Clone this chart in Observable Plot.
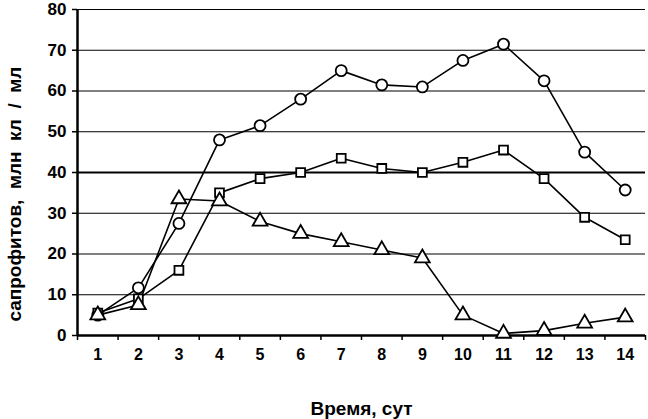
<!DOCTYPE html>
<html>
<head>
<meta charset="utf-8">
<script src="https://cdn.jsdelivr.net/npm/d3@7"></script>
<script src="https://cdn.jsdelivr.net/npm/@observablehq/plot@0.6"></script>
<style>
  html, body { margin: 0; padding: 0; background: #fff; }
  svg { display: block; }
</style>
</head>
<body>
<div id="chart"></div>
<script>
const days = [1, 2, 3, 4, 5, 6, 7, 8, 9, 10, 11, 12, 13, 14];
const circleSeries = [5, 11.7, 27.5, 48, 51.5, 58, 65, 61.5, 61, 67.5, 71.5, 62.5, 45, 35.7];
const squareSeries = [5.5, 9, 16, 35, 38.5, 40, 43.5, 41, 40, 42.5, 45.5, 38.5, 29, 23.5];
const triangleSeries = [5, 7.5, 33.5, 33, 28, 25, 23, 21, 19, 5, 0.5, 1.2, 3, 4.5];
const yTicks = [0, 10, 20, 30, 40, 50, 60, 70, 80];
const xLabel = "Время, сут";
const yLabel = "сапрофитов,\u00a0\u00a0млн\u00a0\u00a0кл\u00a0\u00a0/\u00a0\u00a0мл";

const rows = (vals, s) => days.map((d, i) => ({day: d, v: vals[i], s}));
const circ = rows(circleSeries, "c");
const sq = rows(squareSeries, "s");
const tri = rows(triangleSeries, "t");
const halfTicks = d3.range(0.5, 15, 1);

const chart = Plot.plot({
  width: 648,
  height: 419,
  marginLeft: 77,
  marginRight: 3,
  marginTop: 9,
  marginBottom: 84,
  style: {fontFamily: "'Liberation Sans', Arial, sans-serif", background: "#fff"},
  x: {domain: [0.5, 14.5], axis: null, label: null},
  y: {domain: [0, 80], axis: null, label: null},
  marks: [
    Plot.ruleY(yTicks.filter(d => d !== 40 && d !== 0), {stroke: "#000", strokeWidth: 1.2}),
    Plot.ruleY([40], {stroke: "#000", strokeWidth: 2.2}),
    Plot.axisX(halfTicks, {tickSize: 5, tickFormat: () => "", label: null, stroke: "#000", strokeWidth: 1.5}),
    Plot.axisX(days, {tickSize: 0, tickPadding: 13, label: null, fontSize: 16, fontWeight: "bold", fill: "#000"}),
    Plot.axisY(yTicks, {tickSize: 5, tickPadding: 6, label: null, fontSize: 17, fontWeight: "bold", fill: "#000", stroke: "#000", strokeWidth: 1.5}),
    Plot.ruleY([0], {stroke: "#000", strokeWidth: 2.5}),
    Plot.ruleX([0.5], {y1: 0, y2: 80, stroke: "#000", strokeWidth: 2.5}),
    Plot.line(circ, {x: "day", y: "v", stroke: "#000", strokeWidth: 1.6}),
    Plot.line(sq, {x: "day", y: "v", stroke: "#000", strokeWidth: 1.6}),
    Plot.line(tri, {x: "day", y: "v", stroke: "#000", strokeWidth: 1.6}),
    Plot.dot(circ, {x: "day", y: "v", symbol: "circle", r: 5.5, fill: "#fff", stroke: "#000", strokeWidth: 1.8}),
    Plot.dot(sq, {x: "day", y: "v", symbol: "square", r: 5, fill: "#fff", stroke: "#000", strokeWidth: 1.8}),
    Plot.dot(tri, {x: "day", y: "v", symbol: "triangle", r: 5.5, fill: "#fff", stroke: "#000", strokeWidth: 1.8}),
    Plot.text([xLabel], {x: 7.5, y: -18, text: d => d, fontSize: 19, fontWeight: "bold", fill: "#000"}),
    Plot.text([yLabel], {x: -1.05, y: 34.7, text: d => d, rotate: -90, fontSize: 19, fontWeight: "bold", fill: "#000"})
  ]
});
document.getElementById("chart").appendChild(chart);
</script>
</body>
</html>
